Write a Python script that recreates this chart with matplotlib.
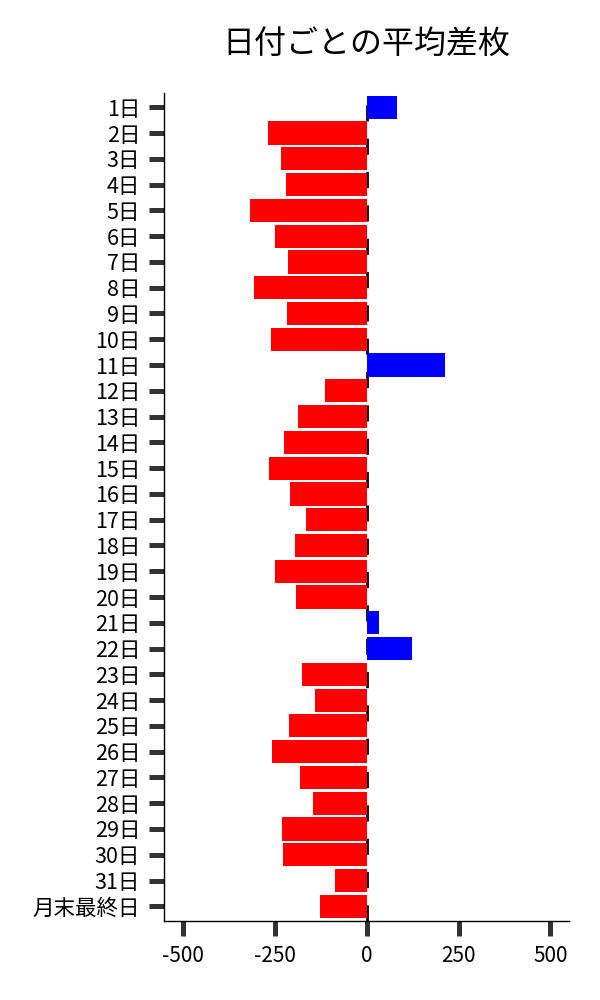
import matplotlib.pyplot as plt
import numpy as np

plt.rcParams["font.family"] = ["Noto Sans CJK JP", "DejaVu Sans"]
plt.rcParams["axes.unicode_minus"] = False

# 日付ごとの平均差枚
days = [f"{i}日" for i in range(1, 32)] + ["月末最終日"]
avg_diff = [
    84, -269, -234, -220, -318, -249, -214, -306, -217, -261,
    212, -114, -187, -225, -266, -209, -165, -195, -249, -192,
    35, 123, -177, -141, -212, -258, -182, -146, -231, -227,
    -87, -128,
]

colors = ["blue" if v > 0 else "red" for v in avg_diff]
ypos = np.arange(len(days))

fig = plt.figure(figsize=(6, 10), dpi=100)
ax = fig.add_axes([0.274, 0.079, 0.674, 0.828])

# 0 の位置に破線
ax.axvline(0, color="black", lw=2, dashes=(5.8, 6.2), zorder=0.5)
ax.barh(ypos, avg_diff, height=0.9, color=colors, zorder=2)

ax.set_yticks(ypos)
ax.set_yticklabels(days, fontsize=15.5)
ax.set_ylim(len(days) - 0.43, -0.555)
ax.set_xlim(-550, 550)
ax.set_xticks([-500, -250, 0, 250, 500])
ax.tick_params(axis="x", labelsize=15, length=10.5, width=3.6, color="#333333", pad=7)
ax.tick_params(axis="y", length=10.5, width=3.6, color="#333333", pad=7)

for s in ["top", "right"]:
    ax.spines[s].set_visible(False)
for s in ["left", "bottom"]:
    ax.spines[s].set_linewidth(1)

ax.set_title("日付ごとの平均差枚", fontsize=23, pad=28)

plt.savefig("out.png", dpi=100)
